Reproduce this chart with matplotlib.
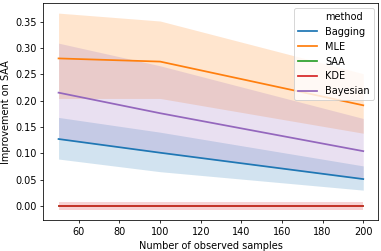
import matplotlib
matplotlib.use('Agg')
import matplotlib.pyplot as plt
from matplotlib.lines import Line2D

# number of observed samples
samples = [50, 100, 200]

# mean improvement on SAA and CI bounds
bagging = [0.127, 0.101, 0.051]
bagging_lo = [0.089, 0.065, 0.030]
bagging_hi = [0.168, 0.140, 0.076]

mle = [0.280, 0.274, 0.191]
mle_lo = [0.204, 0.204, 0.138]
mle_hi = [0.366, 0.351, 0.251]

saa = [0.0, 0.0, 0.0]
saa_lo = [0.0, 0.0, 0.0]
saa_hi = [0.0, 0.0, 0.0]

kde = [0.0, 0.0, 0.0]
kde_lo = [-0.008, -0.008, -0.008]
kde_hi = [0.007, 0.007, 0.007]

bayesian = [0.215, 0.176, 0.104]
bayesian_lo = [0.127, 0.101, 0.051]
bayesian_hi = [0.309, 0.266, 0.166]

methods = ['Bagging', 'MLE', 'SAA', 'KDE', 'Bayesian']
means = [bagging, mle, saa, kde, bayesian]
lows = [bagging_lo, mle_lo, saa_lo, kde_lo, bayesian_lo]
highs = [bagging_hi, mle_hi, saa_hi, kde_hi, bayesian_hi]
colors = ['C0', 'C1', 'C2', 'C3', 'C4']

# small dpi so default font / line sizes come out like the reference
dpi = 70
fig = plt.figure(figsize=(381 / dpi, 251 / dpi), dpi=dpi)
ax = fig.add_axes([0.1137, 0.1235, 0.8797, 0.8635])

handles = [Line2D([], [], linestyle='none', marker='')]
labels = ['method']
for name, m, lo, hi, c in zip(methods, means, lows, highs, colors):
    line, = ax.plot(samples, m, color=c, lw=1.8)
    ax.fill_between(samples, lo, hi, color=c, alpha=0.2, lw=0)
    handles.append(line)
    labels.append(name)

ax.set_xticks([60, 80, 100, 120, 140, 160, 180, 200])
ax.set_yticks([0.0, 0.05, 0.10, 0.15, 0.20, 0.25, 0.30, 0.35])
ax.set_xlabel('Number of observed samples')
ax.set_ylabel('Improvement on SAA')

ax.legend(handles, labels, loc='upper right')

fig.savefig('out.png', dpi=dpi)
